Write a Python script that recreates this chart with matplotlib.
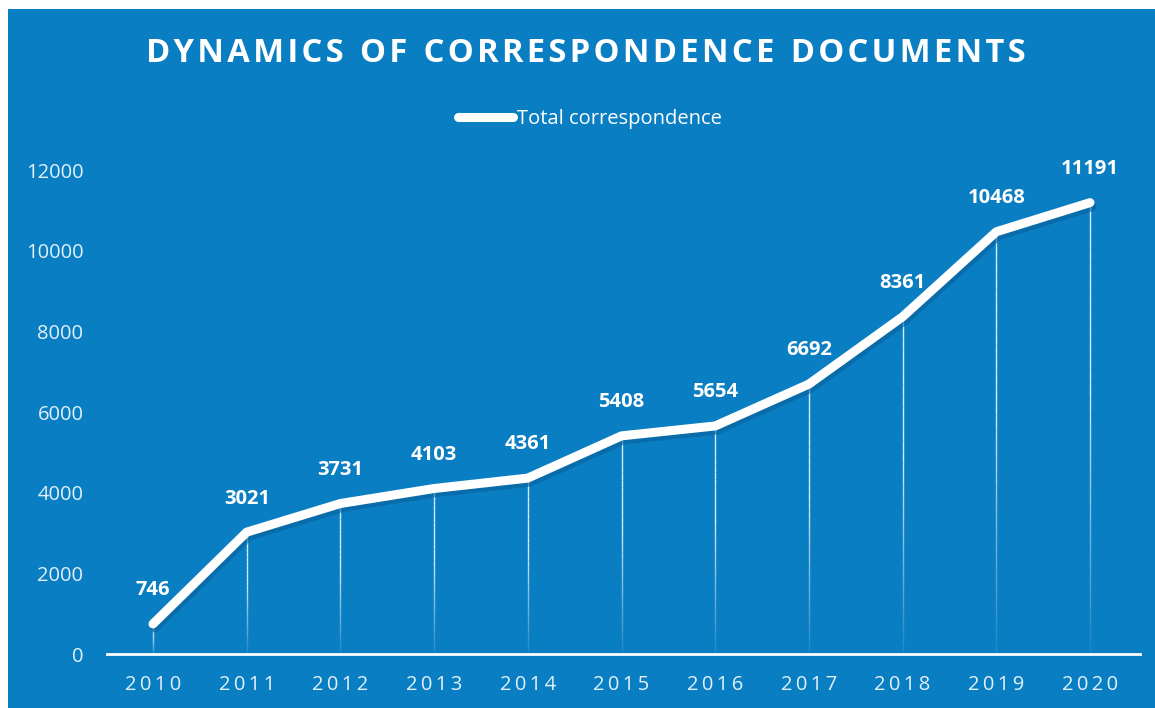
import numpy as np
import matplotlib.pyplot as plt
from matplotlib import transforms
from matplotlib.patches import Rectangle
from matplotlib.collections import LineCollection

years = ["2010", "2011", "2012", "2013", "2014", "2015",
         "2016", "2017", "2018", "2019", "2020"]
total = [746, 3021, 3731, 4103, 4361, 5408, 5654, 6692, 8361, 10468, 11191]
yticks = [0, 2000, 4000, 6000, 8000, 10000, 12000]

blue = "#0A7EC2"
shadow = "#07609A"
W, H = 1155, 708

fig = plt.figure(figsize=(W / 100, H / 100), dpi=100, facecolor="white")
# blue panel, leaving the thin white strip at top and left
fig.patches.append(Rectangle((8 / W, 0), 1, 1 - 9 / H, transform=fig.transFigure,
                             facecolor=blue, edgecolor="none", zorder=-5))

ax = fig.add_axes([107 / W, (H - 654) / H, (1140 - 107) / W, 484 / H])
ax.set_zorder(2)
ax.set_facecolor("none")
x = np.arange(len(years))
ax.set_xlim(-(153 - 107) / 93.7, 10 + (1140 - 1090) / 93.7)
ax.set_ylim(0, 12000)

# fading drop lines from each point to the axis
segs, cols = [], []
n = 30
for xi, yi in zip(x, total):
    ys = np.linspace(0, yi, n + 1)
    for k in range(n):
        segs.append([(xi, ys[k]), (xi, ys[k + 1])])
        a = min(1.0, 0.05 + 1.6 * (k + 1) / n)
        cols.append((1, 1, 1, a * 0.85))
ax.add_collection(LineCollection(segs, colors=cols, linewidths=1.0, zorder=2))

# soft shadow under the line
off = transforms.offset_copy(ax.transData, fig=fig, x=2, y=-4, units="dots")
ax.plot(x, total, color=shadow, lw=6.5, alpha=0.6, solid_capstyle="round",
        solid_joinstyle="round", transform=off, zorder=3)
ax.plot(x, total, color="white", lw=6.5, solid_capstyle="round",
        solid_joinstyle="round", zorder=4, label="Total correspondence")

for xi, yi in zip(x, total):
    ax.annotate(str(yi), (xi, yi), xytext=(0, 17), textcoords="offset points",
                ha="center", va="bottom", color="white", fontsize=14.5,
                fontweight="bold", family="Open Sans", annotation_clip=False)

for s in ["top", "right", "left"]:
    ax.spines[s].set_visible(False)
ax.spines["bottom"].set_color("white")
ax.spines["bottom"].set_linewidth(2)

ax.set_xticks(x)
ax.set_xticklabels(["\u2009".join(y) for y in years], color="#E2F0FA", fontsize=14.5,
                   family="Open Sans")
ax.set_yticks(yticks)
ax.set_yticklabels([str(v) for v in yticks], color="#E2F0FA", fontsize=14.5,
                   family="Open Sans")
ax.tick_params(length=0)
ax.tick_params(axis="x", pad=15)
ax.tick_params(axis="y", pad=17)

title = "DYNAMICS OF CORRESPONDENCE DOCUMENTS"
title = "\u200a".join(title).replace("\u200a \u200a", "\u2002")
fig.text(586 / W, 1 - 54 / H, title, ha="center", va="center", color="white",
         fontsize=23.6, fontweight="bold", family="Open Sans")

leg = fig.legend(loc="center", bbox_to_anchor=(590 / W, 1 - 119 / H), frameon=False,
                 handlelength=2.7, handletextpad=0.2,
                 prop={"family": "Open Sans", "size": 14.5})
for t in leg.get_texts():
    t.set_color("white")

fig.savefig("out.png", dpi=100, facecolor=fig.get_facecolor())
